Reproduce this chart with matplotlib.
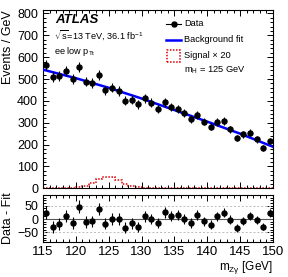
"""
ATLAS-style Z-gamma invariant mass spectrum (ee low pTt category) with
background fit, scaled signal and a Data - Fit residual panel.
"""

from pathlib import Path

import matplotlib

matplotlib.use("Agg")
import matplotlib.pyplot as plt
import numpy as np
from matplotlib.patches import Rectangle
from matplotlib.ticker import MultipleLocator

OUT_PATH = Path("out.png")

# 1 GeV bins from 115 to 150 GeV
bin_edges = list(range(115, 151))
data_counts = [564, 508, 515, 537, 502, 554, 488, 482, 519, 448,
               460, 445, 401, 406, 384, 412, 392, 364, 394, 371, 363, 343,
               316, 335, 305, 282, 303, 307, 270, 230, 247, 254, 224, 184, 216]
residuals = [24, -30, -18, 12, -16, 46, -11, -9, 39, -18,
             0, 0, -33, -16, -30, 10, 0, -14, 25, 11, 14, -1,
             -15, 14, -8, -21, 10, 24, -3, -33, -8, 12, -3, -29, 21]
signal_x20 = [1, 1, 1, 2, 2, 4, 12, 26, 42, 51, 51, 40, 21, 9, 4, 2, 1, 1,
              1, 1, 1, 1, 1, 1, 1, 1, 1, 1, 1, 1, 1, 1, 1, 1, 1]

# background fit read at a few masses
fit_mass = [115, 120, 125, 130, 135, 140, 145, 150]
fit_values = [543, 504, 460, 411, 358, 305, 250, 190]

plt.rcParams["font.family"] = ["Liberation Sans", "DejaVu Sans"]
plt.rcParams["mathtext.fontset"] = "custom"
plt.rcParams["mathtext.rm"] = "Liberation Sans"
plt.rcParams["mathtext.it"] = "Liberation Sans:italic"
plt.rcParams["mathtext.bf"] = "Liberation Sans:bold"
plt.rcParams["mathtext.default"] = "regular"


def style_axis(ax):
    ax.tick_params(which="both", direction="in", top=True, right=True,
                   labelsize=9, width=0.7)
    ax.tick_params(which="major", length=4.3)
    ax.tick_params(which="minor", length=2.2)
    for sp in ax.spines.values():
        sp.set_linewidth(0.8)


def plot(out_path: Path) -> None:
    edges = np.array(bin_edges, dtype=float)
    centers = 0.5 * (edges[:-1] + edges[1:])
    counts = np.array(data_counts, dtype=float)
    errors = np.sqrt(counts)

    fig = plt.figure(figsize=(2.88, 2.77), dpi=100)
    ax = fig.add_axes([0.1493, 0.3202, 0.7986, 0.6437])
    rax = fig.add_axes([0.1493, 0.1274, 0.7986, 0.1686])

    # main panel
    ax.stairs(signal_x20, edges, color="#dd0000", lw=1.1, ls=(0, (1, 1)))
    ax.plot(fit_mass, fit_values, color="#0000ff", lw=1.8, zorder=3)
    ax.errorbar(centers, counts, yerr=errors, fmt="o", color="black",
                ms=3.6, elinewidth=0.8, capsize=0, zorder=4)

    ax.set_xlim(115, 150)
    ax.set_ylim(0, 816)
    ax.xaxis.set_major_locator(MultipleLocator(5))
    ax.xaxis.set_minor_locator(MultipleLocator(1))
    ax.yaxis.set_major_locator(MultipleLocator(100))
    ax.yaxis.set_minor_locator(MultipleLocator(20))
    ax.tick_params(labelbottom=False)
    style_axis(ax)
    ax.set_ylabel("Events / GeV", fontsize=9, loc="top")
    ax.yaxis.set_label_coords(-0.125, 1.0)

    ax.text(0.052, 0.942, "ATLAS", transform=ax.transAxes, fontsize=9.5,
            fontweight="bold", fontstyle="italic", va="center")
    ax.text(0.05, 0.857, r"$\sqrt{s}$=13 TeV, 36.1 fb$^{-1}$", transform=ax.transAxes,
            fontsize=6.6, va="center")
    ax.text(0.05, 0.765, r"ee low p$_{\rm Tt}$", transform=ax.transAxes,
            fontsize=6.6, va="center")

    # legend drawn by hand, ATLAS style
    lx0, lx1, tx = 0.535, 0.6, 0.613
    rows = [0.922, 0.833, 0.743, 0.66]
    ax.plot([lx0, lx1], [rows[0]] * 2, color="black", lw=0.8, transform=ax.transAxes)
    ax.plot([(lx0 + lx1) / 2], [rows[0]], "o", color="black", ms=3.6, transform=ax.transAxes)
    ax.plot([lx0, lx1], [rows[1]] * 2, color="#0000ff", lw=1.8, transform=ax.transAxes)
    ax.add_patch(Rectangle((lx0 + 0.005, rows[2] - 0.033), lx1 - lx0 - 0.01, 0.066,
                           transform=ax.transAxes, fill=False, edgecolor="#dd0000",
                           lw=1.1, ls=(0, (1, 1))))
    labels = ["Data", "Background fit", "Signal \u00d7 20", r"m$_{\rm H}$ = 125 GeV"]
    for y, lab in zip(rows, labels):
        ax.text(tx, y, lab, transform=ax.transAxes, fontsize=6.7, va="center")

    # residual panel
    rax.axhline(0, color="#555555", lw=0.8)
    for v in (-50, 50):
        rax.axhline(v, color="#bbbbbb", lw=0.7, ls=(0, (2, 2)))
    rax.errorbar(centers, residuals, yerr=errors, fmt="o", color="black",
                 ms=3.6, elinewidth=0.8, capsize=0, zorder=4)
    rax.set_xlim(115, 150)
    rax.set_ylim(-85, 90)
    rax.xaxis.set_major_locator(MultipleLocator(5))
    rax.xaxis.set_minor_locator(MultipleLocator(1))
    rax.yaxis.set_major_locator(MultipleLocator(50))
    rax.yaxis.set_minor_locator(MultipleLocator(10))
    style_axis(rax)
    rax.tick_params(axis="x", labelsize=9.5, pad=3)
    rax.set_ylabel("Data - Fit", fontsize=9)
    rax.yaxis.set_label_coords(-0.125, 0.5)
    rax.set_xlabel(r"m$_{\rm Z\gamma}$ [GeV]", fontsize=8.5, loc="right", labelpad=1)

    fig.savefig(out_path, dpi=100)


def main():
    plot(OUT_PATH)


if __name__ == "__main__":
    main()
